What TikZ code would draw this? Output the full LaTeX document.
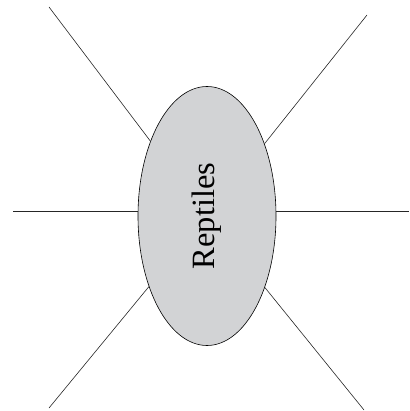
\documentclass[tikz,border=0pt]{standalone}
\usepackage{fontspec}
\setmainfont{Liberation Serif}
\usepackage{xcolor}
\usetikzlibrary{shapes.geometric}
\definecolor{topicgray}{RGB}{210,211,213}

\begin{document}
\begin{tikzpicture}[
  x=1pt, y=-1pt,
  topicnode/.style={ellipse, inner sep=0pt, minimum width=138pt,
    minimum height=259pt, text centered, draw=black, line width=0.6pt,
    fill=topicgray, font=\fontsize{32.5}{38}\selectfont},
  spoke/.style={line width=0.6pt, draw=black!85},
]
  \useasboundingbox (0,0) rectangle (409,411);

  % Nodes
  \node[topicnode] (rep) at (207,216) {\rotatebox{90}{Reptiles}};
  \coordinate (tl) at (49,7);
  \coordinate (tr) at (367,15);
  \coordinate (ml) at (13,211);
  \coordinate (mr) at (409,211);
  \coordinate (bl) at (49,408);
  \coordinate (br) at (364,410);

  % Edges
  \draw[spoke] (rep) -- (tl);
  \draw[spoke] (rep) -- (tr);
  \draw[spoke] (ml -| rep.west) -- (ml);
  \draw[spoke] (mr -| rep.east) -- (mr);
  \draw[spoke] (rep) -- (bl);
  \draw[spoke] (rep) -- (br);
\end{tikzpicture}
\end{document}
